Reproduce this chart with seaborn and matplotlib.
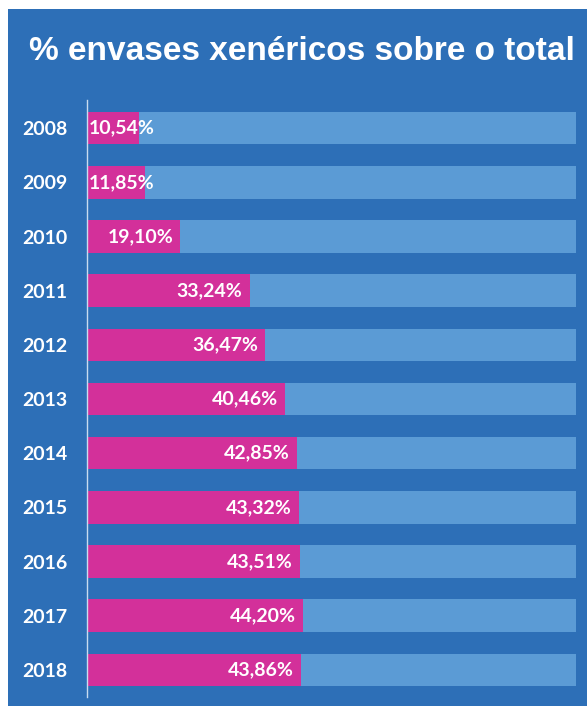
import seaborn as sns
import matplotlib.pyplot as plt
import pandas as pd
from matplotlib.patches import Rectangle

years = ['2008', '2009', '2010', '2011', '2012', '2013', '2014', '2015', '2016', '2017', '2018']
generics = [10.54, 11.85, 19.10, 33.24, 36.47, 40.46, 42.85, 43.32, 43.51, 44.20, 43.86]
total = [100] * len(years)

panel_blue = '#2D6FB7'
light_blue = '#5B9BD5'
magenta = '#D3309A'

df = pd.DataFrame({'year': years, 'generics': generics, 'total': total})

sns.set_style('white')
plt.rcParams['font.family'] = ['Lato', 'DejaVu Sans']

fig = plt.figure(figsize=(5.87, 7.06), dpi=100, facecolor='white')
# blue panel behind everything
fig.patches.append(Rectangle((8 / 587, 0), 1, 1 - 9 / 706, transform=fig.transFigure,
                             facecolor=panel_blue, edgecolor='none', zorder=-1))

ax = fig.add_axes([87 / 587, 9 / 706, (576 - 87) / 587, (697 - 100) / 706])
ax.set_facecolor('none')
ax.set_zorder(2)

sns.barplot(data=df, x='total', y='year', color=light_blue, saturation=1, width=0.6,
            linewidth=0, ax=ax)
sns.barplot(data=df, x='generics', y='year', color=magenta, saturation=1, width=0.6,
            linewidth=0, ax=ax)

for i, v in enumerate(generics):
    label = f"{v:.2f}".replace('.', ',') + '%'
    if v < 15:
        ax.text(0.4, i, label, ha='left', va='center', color='white',
                fontsize=14, fontweight='bold')
    else:
        ax.text(v - 1.5, i, label, ha='right', va='center', color='white',
                fontsize=14, fontweight='bold')

ax.set_xlim(0, 100)
ax.set_ylim(10.5, -0.52)
ax.set_xlabel('')
ax.set_ylabel('')
ax.set_xticks([])
ax.tick_params(axis='y', length=0, pad=14, colors='white', labelsize=14)
for t in ax.get_yticklabels():
    t.set_fontweight('bold')
for s in ['top', 'right', 'bottom']:
    ax.spines[s].set_visible(False)
ax.spines['left'].set_color('#C8DCF0')
ax.spines['left'].set_linewidth(1)

fig.text(0.515, 1 - 52 / 706, '% envases xenéricos sobre o total', ha='center', va='center',
         color='white', fontsize=24, fontweight='bold', family=['Liberation Sans', 'DejaVu Sans'],
         zorder=3)

fig.savefig('out.png', dpi=100, facecolor='white')
